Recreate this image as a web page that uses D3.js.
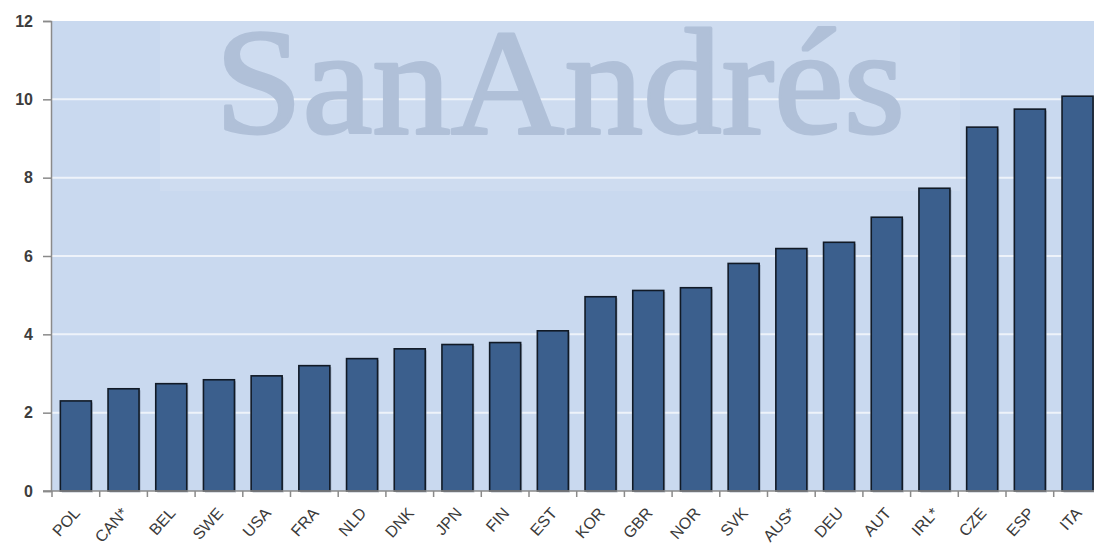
<!DOCTYPE html>
<html>
<head>
<meta charset="utf-8">
<script src="https://cdn.jsdelivr.net/npm/d3@7"></script>
<style>
  html, body { margin: 0; padding: 0; background: #fff; }
  svg { display: block; }
</style>
</head>
<body>
<svg id="chart" width="1094" height="549"></svg>
<script>
const categories = ["POL","CAN*","BEL","SWE","USA","FRA","NLD","DNK","JPN","FIN","EST","KOR","GBR","NOR","SVK","AUS*","DEU","AUT","IRL*","CZE","ESP","ITA"];
const values = [2.30, 2.61, 2.74, 2.84, 2.94, 3.20, 3.38, 3.63, 3.74, 3.79, 4.09, 4.96, 5.12, 5.19, 5.81, 6.19, 6.35, 6.99, 7.73, 9.29, 9.75, 10.08];
const yTicks = [0, 2, 4, 6, 8, 10, 12];
const watermark = "SanAndrés";

const svg = d3.select("#chart");
const W = 1094, H = 549;
const plotLeft = 52, plotTop = 21, plotBottom = 491;
const step = 47.7;
// the last band runs slightly past the right edge of the page
const x = d3.scaleBand()
  .domain(categories)
  .range([plotLeft, plotLeft + step * categories.length])
  .paddingInner(0.35)
  .paddingOuter(0.175);
const y = d3.scaleLinear().domain([0, 12]).range([plotBottom, plotTop]);

// plot background
svg.append("rect")
  .attr("x", plotLeft).attr("y", plotTop)
  .attr("width", W - plotLeft).attr("height", plotBottom - plotTop)
  .attr("fill", "#c9d9ef");

// lighter panel behind the watermark
svg.append("rect")
  .attr("x", 160).attr("y", plotTop)
  .attr("width", 800).attr("height", 170)
  .attr("fill", "#ffffff").attr("opacity", 0.1);

// horizontal grid
svg.append("g")
  .selectAll("line")
  .data(yTicks.filter(d => d > 0 && d < 12))
  .join("line")
  .attr("x1", plotLeft).attr("x2", W)
  .attr("y1", d => y(d)).attr("y2", d => y(d))
  .attr("stroke", "#eef3fa").attr("stroke-width", 2);

// watermark
svg.append("text")
  .attr("x", 215).attr("y", 133)
  .attr("textLength", 690)
  .attr("lengthAdjust", "spacingAndGlyphs")
  .attr("font-family", "Liberation Serif, serif")
  .attr("font-size", 150)
  .attr("fill", "#b0c0d8")
  .attr("stroke", "#b0c0d8")
  .attr("stroke-width", 3)
  .attr("stroke-linejoin", "round")
  .text(watermark);

// bar shadows
svg.append("g")
  .selectAll("rect")
  .data(values)
  .join("rect")
  .attr("x", (d, i) => x(categories[i]) + 1.5)
  .attr("y", d => y(d) + 1.5)
  .attr("width", x.bandwidth())
  .attr("height", d => plotBottom - y(d))
  .attr("fill", "#6f7f96").attr("opacity", 0.5);

// bars
svg.append("g")
  .selectAll("rect")
  .data(values)
  .join("rect")
  .attr("x", (d, i) => x(categories[i]))
  .attr("y", d => y(d))
  .attr("width", x.bandwidth())
  .attr("height", d => plotBottom - y(d))
  .attr("fill", "#3b5f8d")
  .attr("stroke", "#111a26")
  .attr("stroke-width", 1.6);

// y axis
const yAxis = d3.axisLeft(y).tickValues(yTicks).tickSize(8).tickPadding(10);
const gy = svg.append("g").attr("transform", `translate(${plotLeft - 1},0)`).call(yAxis);
gy.select(".domain").attr("stroke", "#8a8a8a").attr("stroke-width", 1.5);
gy.selectAll(".tick line").attr("stroke", "#8a8a8a").attr("stroke-width", 1.5);
gy.selectAll(".tick text")
  .attr("font-family", "Liberation Sans, Arial, sans-serif")
  .attr("font-size", 16)
  .attr("font-weight", 600)
  .attr("fill", "#3d3d3d");

// x axis baseline and ticks at the band boundaries
const gx = svg.append("g");
gx.append("line")
  .attr("x1", plotLeft - 9).attr("x2", W)
  .attr("y1", plotBottom).attr("y2", plotBottom)
  .attr("stroke", "#8a8a8a").attr("stroke-width", 1.5);
gx.selectAll("line.tk")
  .data(categories)
  .join("line")
  .attr("class", "tk")
  .attr("x1", d => x(d) - x.step() * x.paddingOuter())
  .attr("x2", d => x(d) - x.step() * x.paddingOuter())
  .attr("y1", plotBottom).attr("y2", plotBottom + 6)
  .attr("stroke", "#8a8a8a").attr("stroke-width", 1.5);

// rotated category labels
gx.selectAll("text")
  .data(categories)
  .join("text")
  .attr("transform", d => `translate(${x(d) + x.bandwidth() / 2 + 1},${plotBottom + 19}) rotate(-48)`)
  .attr("text-anchor", "end")
  .attr("dy", "0.35em")
  .attr("font-family", "Liberation Sans, Arial, sans-serif")
  .attr("font-size", 16)
  .attr("fill", "#3a3a3a")
  .text(d => d);
</script>
</body>
</html>
